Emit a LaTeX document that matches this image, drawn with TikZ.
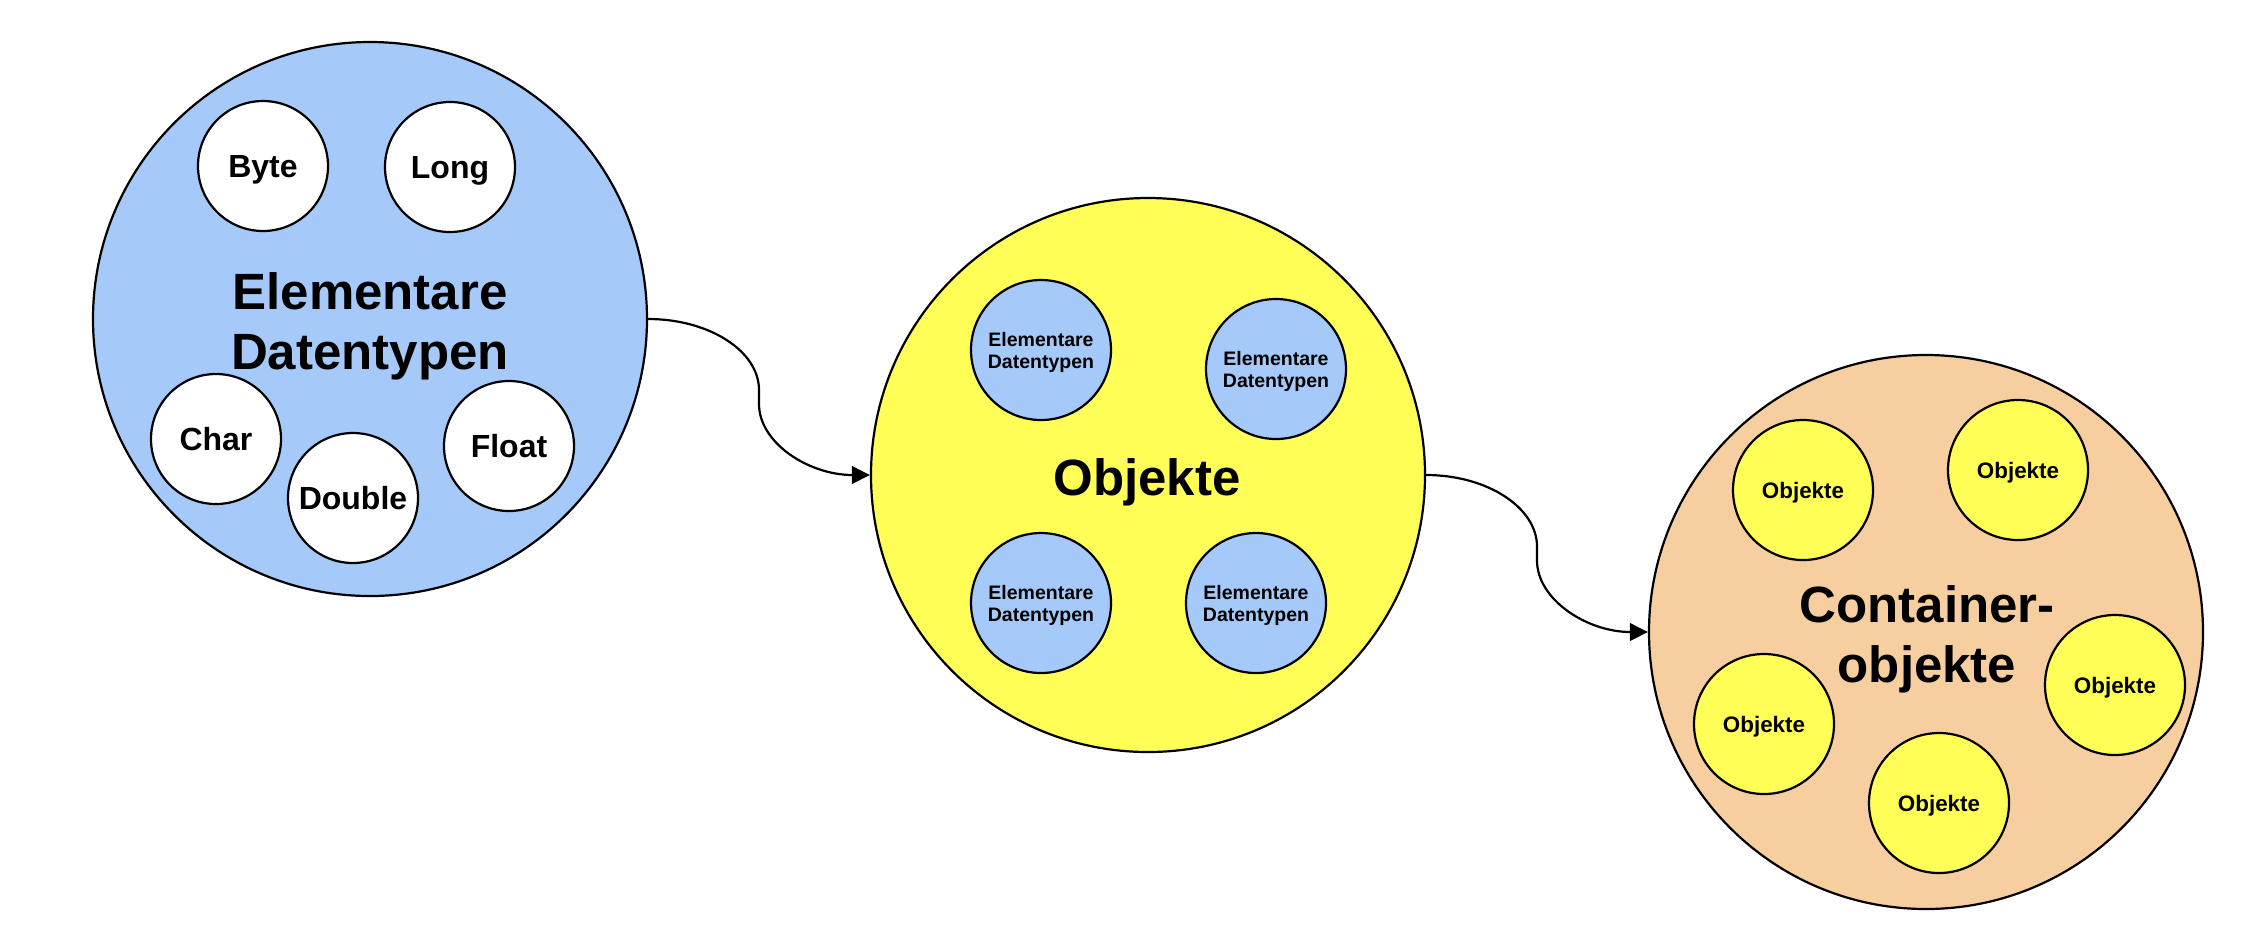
\documentclass[tikz,border=0pt]{standalone}
\usepackage{fontspec}
\setmainfont{Liberation Sans}
\usetikzlibrary{arrows.meta,calc}
\definecolor{cblue}{RGB}{165,201,248}
\definecolor{cyellow}{RGB}{255,255,87}
\definecolor{corange}{RGB}{246,206,160}
\begin{document}
\begin{tikzpicture}[x=0.5pt,y=-0.5pt,
  big/.style={circle,draw,line width=1.1pt,minimum size=277pt,inner sep=0pt},
  smallA/.style={circle,draw,line width=1.1pt,inner sep=0pt,fill=white,minimum size=65pt,text height=11.5pt,text depth=0pt,font=\bfseries\fontsize{16}{19}\selectfont},
  smallB/.style={circle,draw,line width=1.1pt,inner sep=0pt,fill=cblue,minimum size=70pt,align=center,text depth=0pt,font=\bfseries\fontsize{9.75}{11}\selectfont},
  smallC/.style={circle,draw,line width=1.1pt,inner sep=0pt,fill=cyellow,minimum size=70pt,text height=8pt,text depth=0pt,font=\bfseries\fontsize{11.2}{13}\selectfont},
  ttl/.style={font=\bfseries\fontsize{25.5}{30}\selectfont,align=center,inner sep=0pt},
  conn/.style={line width=1.1pt,-{Triangle[length=9pt,width=8.8pt]}}]
\useasboundingbox (0,0) rectangle (2244,934);
% big circles
\node[big,fill=cblue] (c1) at (370,319) {};
\node[big,fill=cyellow] (c2) at (1148,475) {};
\node[big,fill=corange] (c3) at (1926,632) {};
% titles
\node[ttl] (t1) at (370,326) {Elementare\\Datentypen};
\node[ttl] (t2) at (1147,482) {Objekte};
\node[ttl] (t3) at (1927,639) {Container-\\objekte};
% circle 1 members
\node[smallA] (byte) at (263,166) {Byte};
\node[smallA] (long) at (450,167) {Long};
\node[smallA] (char) at (216,439) {Char};
\node[smallA] (double) at (353,498) {Double};
\node[smallA] (float) at (509,446) {Float};
% circle 2 members
\node[smallB] (e1) at (1041,350) {Elementare\\Datentypen};
\node[smallB] (e2) at (1276,369) {Elementare\\Datentypen};
\node[smallB] (e3) at (1041,603) {Elementare\\Datentypen};
\node[smallB] (e4) at (1256,603) {Elementare\\Datentypen};
% circle 3 members
\node[smallC] (o1) at (1803,490) {Objekte};
\node[smallC] (o2) at (2018,470) {Objekte};
\node[smallC] (o3) at (1764,724) {Objekte};
\node[smallC] (o4) at (2115,685) {Objekte};
\node[smallC] (o5) at (1939,803) {Objekte};
% connectors
\coordinate (m1) at ($(c1.east)!0.5!(c2.west)$);
\coordinate (m2) at ($(c2.east)!0.5!(c3.west)$);
\draw[conn] (c1.east) .. controls +(61,0) and +(0,-39) .. ($(m1)+(0,-7)$) -- ($(m1)+(0,7)$) .. controls +(0,39) and +(-61,0) .. (c2.west);
\draw[conn] (c2.east) .. controls +(61,0) and +(0,-39) .. ($(m2)+(0,-7)$) -- ($(m2)+(0,7)$) .. controls +(0,39) and +(-61,0) .. (c3.west);
\end{tikzpicture}
\end{document}
